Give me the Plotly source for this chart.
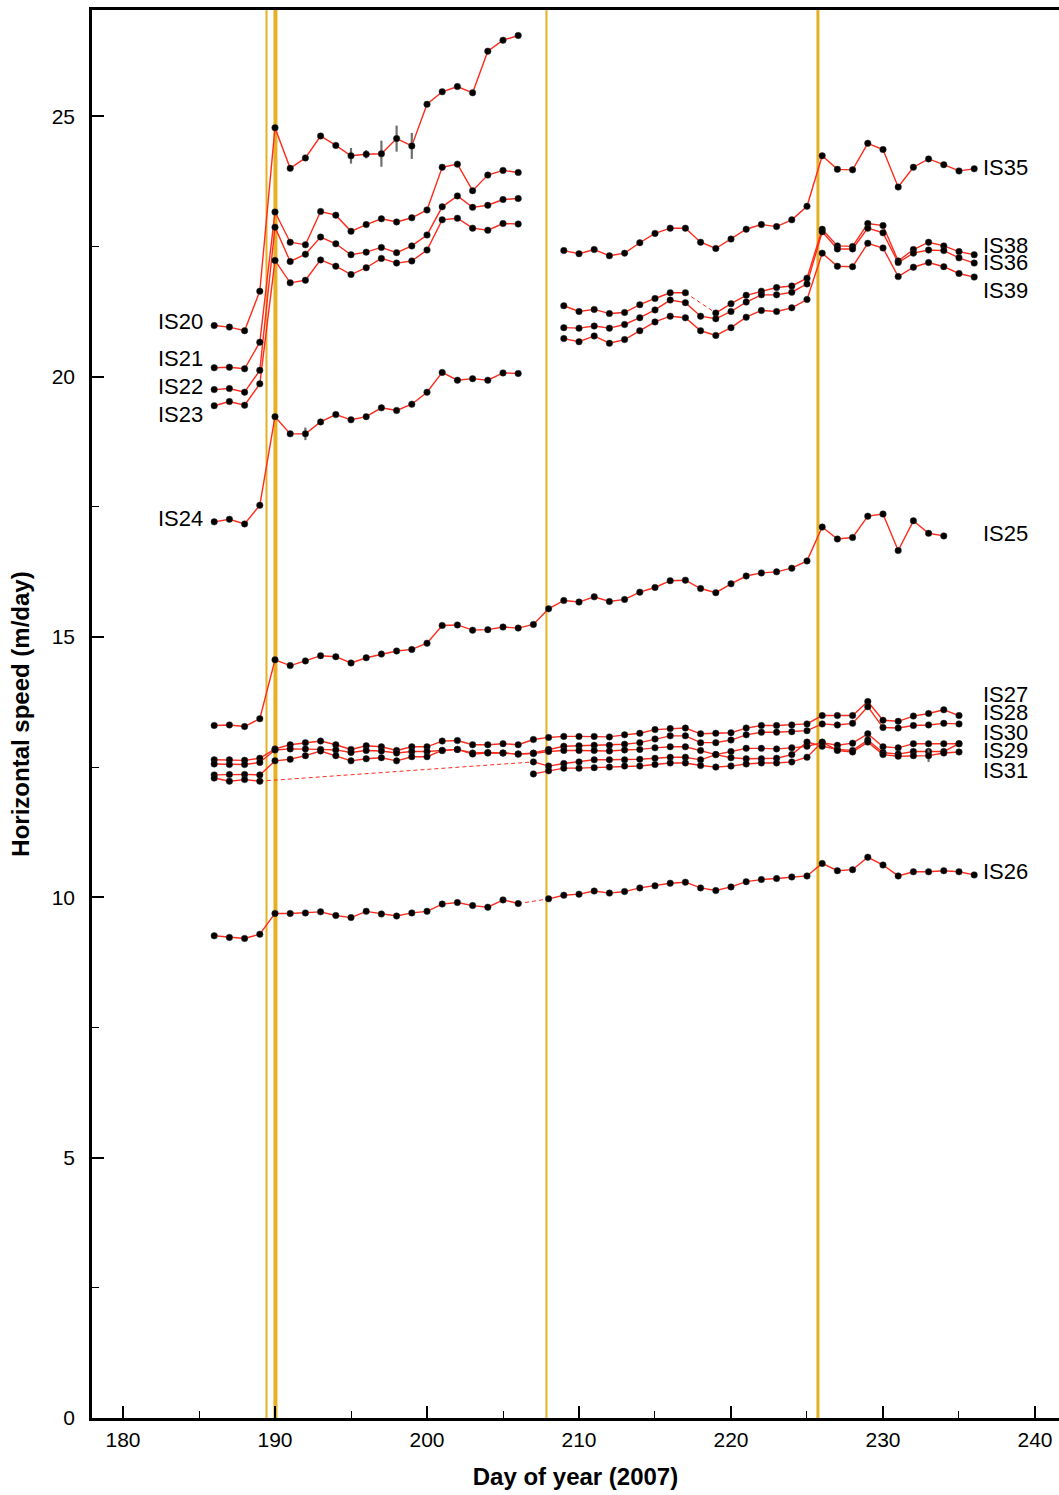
import plotly.graph_objects as go

# ---------------------------------------------------------------------------
# Observation days (day of year 2007)
# ---------------------------------------------------------------------------
days_early = list(range(186, 207))      # first deployment, 186..206
days_late = list(range(209, 237))       # second deployment, 209..236
days_is25 = list(range(186, 235))       # 186..234
days_is26 = list(range(186, 237))       # 186..236
days_cluster = list(range(186, 236))    # 186..235

# Melt / drainage event days marked with vertical lines
event_days = [189.44, 190.03, 207.86, 225.72]
event_widths = [2, 4, 2, 3]

# ---------------------------------------------------------------------------
# Horizontal speeds (m/day)
# ---------------------------------------------------------------------------
is20 = [20.98, 20.95, 20.88, 21.64, 24.78, 24.00, 24.20, 24.62, 24.44, 24.24, 24.27,
        24.28, 24.57, 24.43, 25.23, 25.47, 25.57, 25.45, 26.25, 26.46, 26.55]
is20_err = [0, 0, 0, 0, 0, 0, 0, 0, 0, 0.15, 0.08, 0.25, 0.25, 0.25, 0, 0, 0, 0, 0, 0, 0]
is21 = [20.17, 20.18, 20.15, 20.66, 23.16, 22.58, 22.53, 23.17, 23.10, 22.79, 22.92,
        23.03, 22.97, 23.05, 23.20, 24.02, 24.08, 23.57, 23.87, 23.96, 23.92]
is22 = [19.75, 19.77, 19.70, 20.12, 22.87, 22.21, 22.35, 22.68, 22.55, 22.34, 22.39,
        22.48, 22.38, 22.51, 22.72, 23.26, 23.47, 23.25, 23.29, 23.40, 23.42]
is23 = [19.44, 19.52, 19.45, 19.86, 22.23, 21.80, 21.85, 22.24, 22.12, 21.96, 22.09,
        22.27, 22.18, 22.22, 22.43, 23.01, 23.04, 22.85, 22.81, 22.94, 22.93]
is24 = [17.21, 17.26, 17.17, 17.53, 19.23, 18.90, 18.90, 19.13, 19.27, 19.17, 19.23,
        19.40, 19.35, 19.47, 19.70, 20.08, 19.93, 19.96, 19.93, 20.07, 20.06]
is24_err = [0, 0, 0, 0, 0, 0, 0.12, 0, 0, 0, 0, 0, 0, 0, 0, 0, 0, 0, 0, 0, 0]

is25 = [13.30, 13.31, 13.28, 13.43,
        14.56, 14.45, 14.54, 14.64, 14.62, 14.50, 14.60, 14.67, 14.73, 14.76, 14.88,
        15.22, 15.23, 15.13, 15.14, 15.19, 15.17,
        15.24, 15.54, 15.70, 15.67, 15.77, 15.68, 15.72, 15.86, 15.95, 16.08, 16.09,
        15.93, 15.85, 16.02, 16.17, 16.23, 16.25, 16.32, 16.46, 17.11, 16.88, 16.91,
        17.32, 17.36, 16.66, 17.23, 16.99, 16.94]

is35 = [22.42, 22.36, 22.44, 22.32, 22.37, 22.57, 22.75, 22.85, 22.85, 22.58, 22.46,
        22.64, 22.83, 22.92, 22.88, 23.01, 23.27, 24.24, 23.98, 23.97, 24.48, 24.36,
        23.64, 24.02, 24.18, 24.07, 23.95, 23.99]
is38 = [21.36, 21.25, 21.29, 21.21, 21.23, 21.38, 21.50, 21.61, 21.61, None, 21.22,
        21.40, 21.56, 21.64, 21.71, 21.74, 21.89, 22.83, 22.51, 22.50, 22.94, 22.90,
        22.22, 22.44, 22.58, 22.51, 22.40, 22.34]
is36 = [20.94, 20.93, 20.97, 20.93, 21.00, 21.13, 21.28, 21.47, 21.42, 21.16, 21.11,
        21.25, 21.43, 21.57, 21.57, 21.62, 21.78, 22.78, 22.45, 22.45, 22.85, 22.76,
        22.19, 22.37, 22.43, 22.42, 22.28, 22.18]
is39 = [20.73, 20.67, 20.78, 20.64, 20.71, 20.88, 21.05, 21.16, 21.13, 20.88, 20.79,
        20.94, 21.14, 21.27, 21.25, 21.32, 21.48, 22.37, 22.12, 22.11, 22.56, 22.47,
        21.92, 22.10, 22.19, 22.11, 21.98, 21.91]

is26 = [9.26, 9.23, 9.21, 9.29, 9.69, 9.69, 9.70, 9.72, 9.65, 9.61, 9.73, 9.68, 9.64,
        9.70, 9.73, 9.87, 9.90, 9.84, 9.81, 9.95, 9.88,
        None,
        9.97, 10.04, 10.06, 10.12, 10.08, 10.11, 10.18, 10.22, 10.27, 10.29, 10.18, 10.13,
        10.20, 10.30, 10.34, 10.36, 10.39, 10.41, 10.65, 10.51, 10.53, 10.77, 10.62,
        10.41, 10.49, 10.49, 10.51, 10.49, 10.43]

# Lower cluster (186..235); None = no observation that day
is27 = [12.64, 12.64, 12.63, 12.67,
        12.85, 12.93, 12.97, 13.00, 12.93, 12.84, 12.91, 12.89, 12.82, 12.89, 12.89,
        13.00, 13.01, 12.93, 12.93, 12.95, 12.93,
        13.03, 13.07, 13.09, 13.09, 13.09, 13.08, 13.12, 13.15, 13.22, 13.24, 13.25,
        13.14, 13.15, 13.16, 13.25, 13.30, 13.30, 13.31, 13.33, 13.49, 13.49, 13.49,
        13.76, 13.40, 13.38, 13.48, 13.53, 13.60, 13.49]
is28 = [12.56, 12.55, 12.55, 12.59,
        12.83, 12.85, 12.85, 12.84, 12.83, 12.78, 12.82, 12.81, 12.77, 12.80, 12.80,
        12.82, 12.84, 12.77, 12.78, 12.77, 12.75,
        12.77, 12.84, 12.90, 12.91, 12.92, 12.92, 12.94, 12.97, 13.04, 13.10, 13.10,
        12.97, 12.97, 13.02, 13.12, 13.17, 13.17, 13.18, 13.20, 13.33, 13.31, 13.34,
        13.66, 13.26, 13.25, 13.30, 13.31, 13.34, 13.33]
is30 = [12.35, 12.36, 12.36, 12.35,
        12.62, 12.65, 12.72, 12.81, 12.72, 12.62, 12.66, 12.68, 12.62, 12.70, 12.70,
        12.82, 12.84, 12.75, 12.77, 12.77, 12.75,
        12.76, 12.80, 12.82, 12.82, 12.82, 12.81, 12.83, 12.84, 12.87, 12.89, 12.89,
        12.82, 12.74, 12.80, 12.86, 12.86, 12.85, 12.87, 12.90, 12.97, 12.92, 12.96,
        13.14, 12.89, 12.87, 12.95, 12.95, 12.95, 12.95]
is29 = [12.29, 12.23, 12.26, 12.23,
        None, None, None, None, None, None, None, None, None, None, None,
        None, None, None, None, None, None,
        12.60, 12.52, 12.57, 12.60, 12.64, 12.64, 12.64, 12.65, 12.67, 12.69, 12.69,
        12.64, 12.74, 12.68, 12.66, 12.66, 12.67, 12.74, 12.98, 12.90, 12.84, 12.82,
        13.02, 12.78, 12.75, 12.80, 12.80, 12.80, 12.95]
is31 = [None, None, None, None,
        None, None, None, None, None, None, None, None, None, None, None,
        None, None, None, None, None, None,
        12.37, 12.43, 12.48, 12.48, 12.49, 12.50, 12.52, 12.52, 12.55, 12.58, 12.58,
        12.53, 12.50, 12.52, 12.56, 12.58, 12.58, 12.60, 12.69, 12.98, 12.82, 12.79,
        12.98, 12.74, 12.71, 12.72, 12.72, 12.77, 12.79]
is31_err = [0] * 47 + [0.12, 0, 0]

# Station label texts and the speed level each one sits at
left_labels = ["IS20", "IS21", "IS22", "IS23", "IS24"]
left_label_y = [21.05, 20.35, 19.81, 19.27, 17.28]
right_labels = ["IS35", "IS38", "IS36", "IS39", "IS25", "IS27", "IS28", "IS30", "IS29", "IS31", "IS26"]
right_label_y = [24.02, 22.52, 22.19, 21.66, 16.98, 13.89, 13.54, 13.16, 12.81, 12.44, 10.50]

# ---------------------------------------------------------------------------
tracks = [
    (days_early, is20, is20_err),
    (days_early, is21, None),
    (days_early, is22, None),
    (days_early, is23, None),
    (days_early, is24, is24_err),
    (days_is25, is25, None),
    (days_late, is35, None),
    (days_late, is38, None),
    (days_late, is36, None),
    (days_late, is39, None),
    (days_is26, is26, None),
    (days_cluster, is27, None),
    (days_cluster, is28, None),
    (days_cluster, is30, None),
    (days_cluster, is29, None),
    (days_cluster, is31, is31_err),
]

LINE_RED = "#ff2b1c"
GOLD = "#e6b024"
FONT = "Liberation Sans, Arial, Helvetica, sans-serif"


def gap_bridges(days, vals):
    """Dashed connectors across missing observations inside a record."""
    xs, ys = [], []
    i, n = 0, len(vals)
    while i < n:
        if vals[i] is None:
            j = i
            while j < n and vals[j] is None:
                j += 1
            if i > 0 and j < n:
                xs += [days[i - 1], days[j], None]
                ys += [vals[i - 1], vals[j], None]
            i = j
        else:
            i += 1
    return xs, ys


fig = go.Figure()

# dashed bridges first, then solid lines, then markers on top
for days, vals, _ in tracks:
    bx, by = gap_bridges(days, vals)
    if bx:
        fig.add_trace(go.Scatter(x=bx, y=by, mode="lines",
                                 line=dict(color=LINE_RED, width=1, dash="4px,3px"),
                                 hoverinfo="skip", showlegend=False))

for days, vals, _ in tracks:
    fig.add_trace(go.Scatter(x=days, y=vals, mode="lines", connectgaps=False,
                             line=dict(color=LINE_RED, width=1.4),
                             hoverinfo="skip", showlegend=False))

for days, vals, err in tracks:
    kw = {}
    if err is not None:
        kw["error_y"] = dict(type="data", array=err, visible=True,
                             color="#6e6e6e", thickness=2.2, width=0)
    fig.add_trace(go.Scatter(x=days, y=vals, mode="markers",
                             marker=dict(color="black", size=6.5,
                                         line=dict(color="#333", width=0.5)),
                             showlegend=False, **kw))

# event lines
for d, w in zip(event_days, event_widths):
    fig.add_shape(type="line", xref="x", yref="paper", x0=d, x1=d, y0=0, y1=1,
                  line=dict(color=GOLD, width=w), layer="below")

# station labels
for txt, yv in zip(left_labels, left_label_y):
    fig.add_annotation(x=185.4, y=yv, text=txt, showarrow=False, xanchor="right",
                       yanchor="middle", font=dict(family=FONT, size=22, color="black"))
for txt, yv in zip(right_labels, right_label_y):
    fig.add_annotation(x=236.45, y=yv, text=txt, showarrow=False, xanchor="left",
                       yanchor="middle", font=dict(family=FONT, size=22, color="black"))

x_range = [177.96, 241.58]
y_range = [0, 27.04]

fig.update_layout(
    width=1059, height=1495,
    margin=dict(l=92, r=0, t=10, b=77),
    paper_bgcolor="white", plot_bgcolor="white",
    font=dict(family=FONT, size=21, color="black"),
    xaxis=dict(
        range=x_range, tickmode="linear", tick0=180, dtick=10,
        ticks="inside", ticklen=12, tickwidth=1.5, tickcolor="black",
        minor=dict(ticks="inside", ticklen=7, tickwidth=1.2, dtick=5, tick0=180, tickcolor="black"),
        showline=True, linewidth=3, linecolor="black", mirror=True,
        showgrid=False, zeroline=False, ticklabelstandoff=1,
        title=dict(text="Day of year (2007)", standoff=18,
                   font=dict(family=FONT, size=24, weight="bold")),
    ),
    yaxis=dict(
        range=y_range, tickmode="linear", tick0=0, dtick=5,
        ticks="inside", ticklen=12, tickwidth=1.5, tickcolor="black",
        minor=dict(ticks="inside", ticklen=7, tickwidth=1.2, dtick=2.5, tick0=0, tickcolor="black"),
        showline=True, linewidth=2.5, linecolor="black",
        showgrid=False, zeroline=False, ticklabelstandoff=10,
        title=dict(text="Horizontal speed (m/day)", standoff=16,
                   font=dict(family=FONT, size=24, weight="bold")),
    ),
    yaxis2=dict(
        overlaying="y", side="right", range=y_range, tickmode="linear", tick0=0, dtick=5,
        ticks="inside", ticklen=12, tickwidth=1.5, tickcolor="black",
        minor=dict(ticks="inside", ticklen=7, tickwidth=1.2, dtick=2.5, tick0=0, tickcolor="black"),
        showticklabels=False, showline=False, showgrid=False, zeroline=False,
    ),
)

fig.write_html("out.html")
